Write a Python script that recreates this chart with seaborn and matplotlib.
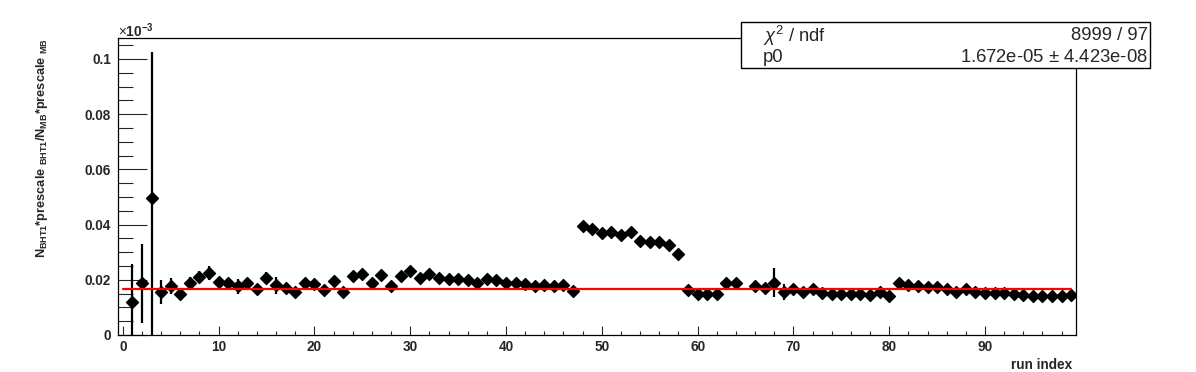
import numpy as np
import pandas as pd
import matplotlib
matplotlib.use("Agg")
import matplotlib.pyplot as plt
from matplotlib.patches import Rectangle
from matplotlib.ticker import MultipleLocator
import seaborn as sns

# run index (runs 0 and 65 are empty)
runs = [r for r in range(1, 100) if r != 65]

# ratio values in units of 1e-3
ratio = [
    0.0119, 0.0188, 0.0495, 0.0156, 0.0177, 0.0150, 0.0190, 0.0210, 0.0225, 0.0193,
    0.0190, 0.0176, 0.0188, 0.0167, 0.0208, 0.0180, 0.0170, 0.0154, 0.0188, 0.0185,
    0.0162, 0.0195, 0.0154, 0.0215, 0.0220, 0.0190, 0.0217, 0.0179, 0.0213, 0.0232,
    0.0207, 0.0221, 0.0206, 0.0202, 0.0202, 0.0199, 0.0190, 0.0202, 0.0201, 0.0189,
    0.0189, 0.0185, 0.0178, 0.0180, 0.0176, 0.0180, 0.0160, 0.0395, 0.0384, 0.0371,
    0.0372, 0.0363, 0.0373, 0.0340, 0.0337, 0.0338, 0.0325, 0.0295, 0.0162, 0.0150,
    0.0150, 0.0150, 0.0187, 0.0187, 0.0177, 0.0172, 0.0190, 0.0156, 0.0166,
    0.0154, 0.0167, 0.0153, 0.0148, 0.0148, 0.0148, 0.0148, 0.0146, 0.0154, 0.0142,
    0.0187, 0.0180, 0.0177, 0.0175, 0.0175, 0.0165, 0.0156, 0.0166, 0.0154, 0.0153,
    0.0153, 0.0153, 0.0150, 0.0146, 0.0143, 0.0143, 0.0143, 0.0143, 0.0146,
]

ratio_err = [
    0.0140, 0.0143, 0.0530, 0.0043, 0.0028, 0.0015, 0.0020, 0.0022, 0.0025, 0.0015,
    0.0015, 0.0026, 0.0020, 0.0015, 0.0022, 0.0030, 0.0015, 0.0012, 0.0012, 0.0012,
    0.0012, 0.0012, 0.0012, 0.0012, 0.0012, 0.0010, 0.0010, 0.0010, 0.0010, 0.0010,
    0.0010, 0.0010, 0.0010, 0.0010, 0.0010, 0.0010, 0.0010, 0.0010, 0.0010, 0.0010,
    0.0010, 0.0010, 0.0010, 0.0010, 0.0010, 0.0010, 0.0010, 0.0008, 0.0008, 0.0008,
    0.0008, 0.0008, 0.0008, 0.0008, 0.0008, 0.0008, 0.0008, 0.0008, 0.0010, 0.0010,
    0.0010, 0.0010, 0.0010, 0.0010, 0.0012, 0.0012, 0.0054, 0.0029, 0.0012,
    0.0010, 0.0010, 0.0010, 0.0010, 0.0010, 0.0010, 0.0010, 0.0010, 0.0010, 0.0010,
    0.0010, 0.0010, 0.0010, 0.0010, 0.0010, 0.0010, 0.0010, 0.0010, 0.0010, 0.0010,
    0.0010, 0.0010, 0.0010, 0.0010, 0.0010, 0.0010, 0.0010, 0.0010, 0.0010,
]

# constant fit
fit_p0 = 0.01672
fit_range = [0, 99]
stat_labels = [r"$\chi^2$ / ndf", "p0"]
stat_values = ["8999 / 97", "1.672e-05 $\\pm$ 4.423e-08"]

df = pd.DataFrame({"run": runs, "ratio": ratio, "err": ratio_err})

sns.set_style("white")
plt.rcParams["font.family"] = ["Liberation Sans", "DejaVu Sans"]
plt.rcParams["mathtext.fontset"] = "custom"
plt.rcParams["mathtext.rm"] = "Liberation Sans"
plt.rcParams["mathtext.it"] = "Liberation Sans:italic"
plt.rcParams["mathtext.bf"] = "Liberation Sans:bold"

W, H = 1196, 372
fig = plt.figure(figsize=(W / 100, H / 100), dpi=100)
ax = fig.add_axes([118 / W, 1 - 335 / H, (1076 - 118) / W, (335 - 38) / H])

ax.errorbar(df["run"], df["ratio"], yerr=df["err"], fmt="none",
            ecolor="black", elinewidth=1.6, capsize=0, zorder=2)
sns.scatterplot(data=df, x="run", y="ratio", ax=ax, marker="D", s=38,
                color="black", edgecolor="black", linewidth=0.9, zorder=3)
ax.plot(fit_range, [fit_p0, fit_p0], color="#ff0000", lw=1.6, zorder=4)

ax.set_xlim(-0.5, 99.5)
ax.set_ylim(0, 0.1076)
ax.xaxis.set_major_locator(MultipleLocator(10))
ax.xaxis.set_minor_locator(MultipleLocator(2))
ax.yaxis.set_major_locator(MultipleLocator(0.02))
ax.yaxis.set_minor_locator(MultipleLocator(0.005))
ax.set_xticks([0, 10, 20, 30, 40, 50, 60, 70, 80, 90])
ax.set_xticklabels(["0", "10", "20", "30", "40", "50", "60", "70", "80", "90"])
ax.set_yticks([0, 0.02, 0.04, 0.06, 0.08, 0.1])
ax.set_yticklabels(["0", "0.02", "0.04", "0.06", "0.08", "0.1"])

ax.tick_params(axis="y", which="major", direction="in", length=21, width=0.8,
               left=True, right=False, labelsize=9.8, pad=5)
ax.tick_params(axis="y", which="minor", direction="in", length=10.5, width=0.8,
               left=True, right=False)
ax.tick_params(axis="x", which="major", direction="in", length=6.5, width=0.8,
               bottom=True, top=False, labelsize=9.8, pad=3.5)
ax.tick_params(axis="x", which="minor", direction="in", length=3.2, width=0.8,
               bottom=True, top=False)
for lab in ax.get_xticklabels() + ax.get_yticklabels():
    lab.set_fontweight("bold")
for sp in ax.spines.values():
    sp.set_color("black")
    sp.set_linewidth(0.9)
ax.set_xlabel("")
ax.set_ylabel("")

fig.text(1072 / W, 1 - 365 / H, "run index", ha="right", va="center",
         fontsize=9.8, fontweight="bold")
fig.text(42 / W, 1 - 38 / H,
         r"N$_{\mathbf{BHT1}}$*prescale $_{\mathbf{BHT1}}$/N$_{\mathbf{MB}}$*prescale $_{\mathbf{MB}}$",
         rotation=90, ha="center", va="top", fontsize=9.2, fontweight="bold")
fig.text(118 / W, 1 - 31 / H, r"$\times$10$^{\mathbf{-3}}$", ha="left", va="center",
         fontsize=9.8, fontweight="bold")

# stat box
box = Rectangle((741 / W, 1 - 68 / H), (1150 - 741) / W, (68 - 22) / H,
                transform=fig.transFigure, facecolor="white", edgecolor="black",
                lw=1.0, zorder=10)
fig.add_artist(box)
for i, yy in enumerate([36, 57]):
    fig.text(763 / W, 1 - yy / H, stat_labels[i], ha="left", va="center",
             fontsize=13.3, zorder=11)
    fig.text(1148 / W, 1 - yy / H, stat_values[i], ha="right", va="center",
             fontsize=13.3, zorder=11)

fig.savefig("out.png", dpi=100)
